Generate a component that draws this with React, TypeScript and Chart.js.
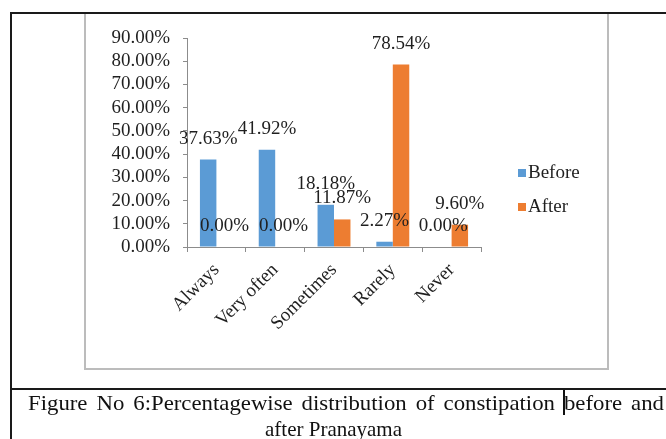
import React, { useEffect, useRef } from "react";
import { Chart, registerables } from "chart.js";

Chart.register(...registerables);

// Response categories on the x axis
const categories = ["Always", "Very often", "Sometimes", "Rarely", "Never"];
// Percentage of subjects in each category
const beforeValues = [37.63, 41.92, 18.18, 2.27, 0.0];
const afterValues = [0.0, 0.0, 11.87, 78.54, 9.6];
const seriesNames = ["Before", "After"];
const seriesColors = ["#5B9BD5", "#ED7D31"];
// Value axis range
const yMin = 0;
const yMax = 90;
const yStep = 10;

const captionLine1 = "Figure No 6:Percentagewise distribution of constipation before and";
const captionLine2 = "after Pranayama";

const SERIF = '"Liberation Serif", "Times New Roman", serif';
const TEXT_COLOR = "#1f1f1f";
const AXIS_COLOR = "#8c8c8c";

const fmtPct = (v: number) => v.toFixed(2) + "%";

// Value labels sitting above each bar end
const valueLabels = {
  id: "valueLabels",
  afterDatasetsDraw(chart: any) {
    const ctx = chart.ctx;
    ctx.save();
    ctx.font = `19px ${SERIF}`;
    ctx.fillStyle = TEXT_COLOR;
    ctx.textAlign = "center";
    ctx.textBaseline = "middle";
    chart.data.datasets.forEach((ds: any, i: number) => {
      const meta = chart.getDatasetMeta(i);
      meta.data.forEach((bar: any, j: number) => {
        ctx.fillText(fmtPct(ds.data[j]), bar.x, bar.y - 21);
      });
    });
    ctx.restore();
  },
};

// Legend to the right of the plot, square markers
const sideLegend = {
  id: "sideLegend",
  afterDraw(chart: any) {
    const ctx = chart.ctx;
    const area = chart.chartArea;
    const x = area.right + 37;
    const y0 = area.top + 135;
    const gap = 34;
    ctx.save();
    ctx.font = `19px ${SERIF}`;
    ctx.textAlign = "left";
    ctx.textBaseline = "middle";
    chart.data.datasets.forEach((ds: any, i: number) => {
      const cy = y0 + i * gap;
      ctx.fillStyle = ds.backgroundColor;
      ctx.fillRect(x, cy - 4, 8, 8);
      ctx.fillStyle = TEXT_COLOR;
      ctx.fillText(ds.label, x + 10, cy);
    });
    ctx.restore();
  },
};

function BarChart() {
  const ref = useRef<HTMLCanvasElement | null>(null);

  useEffect(() => {
    if (!ref.current) return;
    const chart = new Chart(ref.current, {
      type: "bar",
      data: {
        labels: categories,
        datasets: [beforeValues, afterValues].map((vals, i) => ({
          label: seriesNames[i],
          data: vals,
          backgroundColor: seriesColors[i],
          borderWidth: 0,
          categoryPercentage: 0.56,
          barPercentage: 1,
        })),
      },
      options: {
        animation: false,
        responsive: false,
        maintainAspectRatio: false,
        layout: { padding: { left: 97, right: 185, top: 38, bottom: 72 } },
        plugins: {
          legend: { display: false },
          tooltip: { enabled: false },
          title: { display: false },
        },
        scales: {
          x: {
            grid: {
              display: true,
              drawOnChartArea: false,
              drawTicks: true,
              tickLength: 5,
              color: AXIS_COLOR,
              offset: true,
            },
            border: { display: true, color: AXIS_COLOR, width: 1 },
            ticks: {
              maxRotation: 45,
              minRotation: 45,
              autoSkip: false,
              padding: 7,
              color: TEXT_COLOR,
              font: { family: SERIF, size: 19 },
            },
            afterFit: (s: any) => {
              s.height = 120;
            },
          },
          y: {
            min: yMin,
            max: yMax,
            grid: {
              display: true,
              drawOnChartArea: false,
              drawTicks: true,
              tickLength: 4,
              color: AXIS_COLOR,
            },
            border: { display: true, color: AXIS_COLOR, width: 1 },
            ticks: {
              stepSize: yStep,
              autoSkip: false,
              padding: 13,
              color: TEXT_COLOR,
              font: { family: SERIF, size: 19 },
              callback: (v: any) => fmtPct(Number(v)),
            },
            afterFit: (s: any) => {
              s.width = 90;
            },
          },
        },
      },
      plugins: [valueLabels, sideLegend],
    });
    return () => chart.destroy();
  }, []);

  return (
    <canvas
      ref={ref}
      width={666}
      height={439}
      style={{ position: "absolute", left: 0, top: 0, width: 666, height: 439 }}
    />
  );
}

export default function App() {
  const line = (s: React.CSSProperties) => (
    <div style={{ position: "absolute", background: "#1a1a1a", ...s }} />
  );
  const captionStyle: React.CSSProperties = {
    position: "absolute",
    whiteSpace: "nowrap",
    fontSize: 21,
    lineHeight: "24px",
    color: "#111",
  };
  return (
    <div
      style={{
        position: "fixed",
        left: 0,
        top: 0,
        width: 666,
        height: 439,
        overflow: "hidden",
        background: "#ffffff",
        fontFamily: SERIF,
      }}
    >
      {/* chart frame */}
      <div
        style={{
          position: "absolute",
          left: 84,
          top: 12,
          width: 521,
          height: 354,
          border: "2px solid #bcbcbc",
          boxSizing: "content-box",
        }}
      />
      <BarChart />
      {/* table rules */}
      {line({ left: 10, top: 12, width: 656, height: 2 })}
      {line({ left: 10, top: 12, width: 2, height: 427 })}
      {line({ left: 10, top: 388, width: 656, height: 2 })}
      {/* caption, first line justified */}
      <div
        style={{
          ...captionStyle,
          left: 28,
          top: 391,
          transformOrigin: "0 0",
          transform: "scaleX(1.085)",
          wordSpacing: 3,
        }}
      >
        {captionLine1}
      </div>
      <div style={{ ...captionStyle, left: 265, top: 417 }}>{captionLine2}</div>
      <div style={{ position: "absolute", left: 563, top: 390, width: 2, height: 25, background: "#111" }} />
    </div>
  );
}
